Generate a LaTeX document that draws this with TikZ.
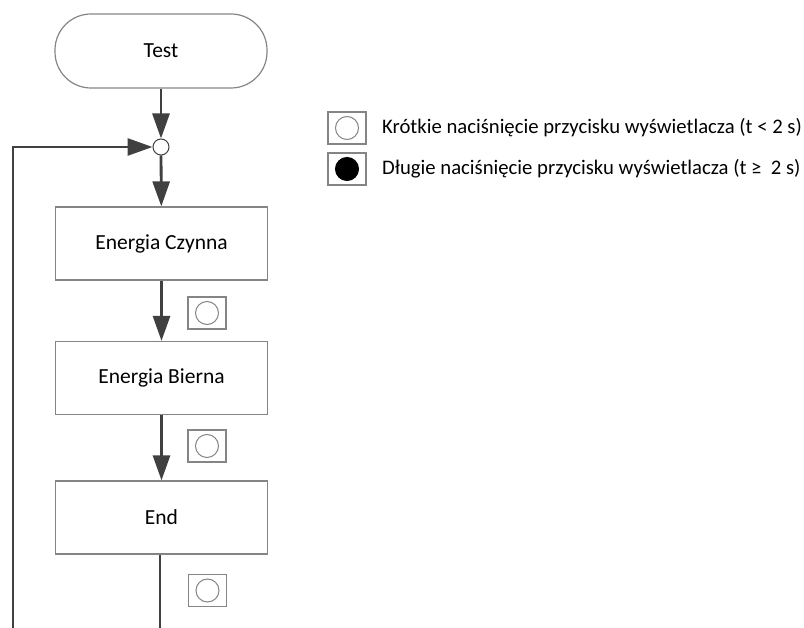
\documentclass[tikz,border=0pt]{standalone}
\usepackage{fontspec}
\setmainfont{Carlito}
\usetikzlibrary{arrows.meta}
\definecolor{lineC}{HTML}{404040}
\definecolor{boxC}{HTML}{858585}
\begin{document}
\begin{tikzpicture}[x=1pt,y=-1pt,
  stepbox/.style={draw=boxC,line width=1.2pt,minimum width=212pt,minimum height=73pt,inner sep=0pt,font=\fontsize{21.5}{25}\selectfont,text=black},
  termbox/.style={stepbox,rounded corners=36pt,minimum height=74pt},
  keybox/.style={draw=boxC,line width=1.2pt,minimum width=38pt,minimum height=32pt,inner sep=0pt},
  keycirc/.style={circle,draw=boxC,line width=1pt,minimum size=23pt,inner sep=0pt},
  junc/.style={circle,draw=lineC,line width=1pt,fill=white,minimum size=16pt,inner sep=0pt},
  arr/.style={draw=lineC,line width=2.8pt,-{Triangle[length=25pt,width=17pt]}},
  flow/.style={draw=lineC,line width=2.8pt},
  legtext/.style={anchor=west,font=\fontsize{20.7}{24}\selectfont,inner sep=0pt}
]
\useasboundingbox (0,0) rectangle (804,628);
\node[termbox] (test) at (161,51) {Test};
\node[junc] (j) at (161,147) {};
\node[stepbox] (ec) at (161.5,243.5) {Energia Czynna};
\node[stepbox] (eb) at (161.5,378) {Energia Bierna};
\node[stepbox] (en) at (161.5,517.5) {End};
\coordinate (bot) at (160,628);
\coordinate (lb) at (13,628);

\draw[arr] (test) -- (j);
\draw[arr] (j) -- (ec);
\draw[arr] (ec) -- (eb);
\draw[arr] (eb) -- (en);
\draw[flow] (en.south -| bot) -- (bot);
\draw[arr] (lb) |- (j);

\node[keybox] (k1) at (207,313) {};
\node[keycirc] (c1) at (k1) {};
\node[keybox] (k2) at (207,446) {};
\node[keycirc] (c2) at (k2) {};
\node[keybox] (k3) at (207.5,590.5) {};
\node[keycirc] (c3) at (k3) {};

\node[keybox] (l1) at (347,128) {};
\node[keycirc] (lc1) at (l1) {};
\node[keybox] (l2) at (347,169) {};
\node[keycirc,fill=black,draw=black] (lc2) at (l2) {};
\node[legtext] (t1) at (382,128) {Krótkie naciśnięcie przycisku wyświetlacza (t < 2 s)};
\node[legtext] (t2) at (382,169) {Długie naciśnięcie przycisku wyświetlacza (t ≥\ \ 2 s)};
\end{tikzpicture}
\end{document}
